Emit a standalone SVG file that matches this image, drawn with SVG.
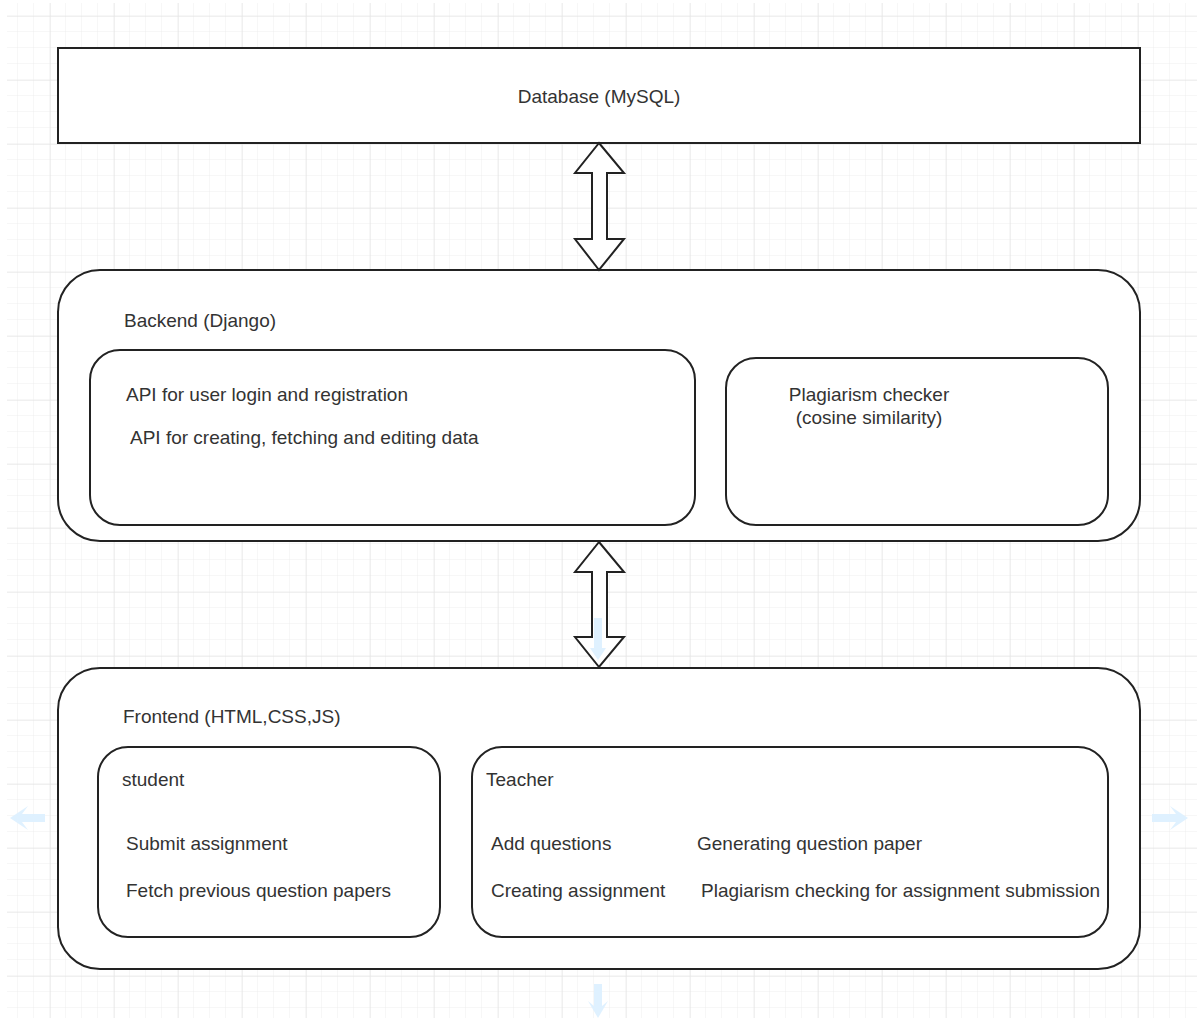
<svg xmlns="http://www.w3.org/2000/svg" width="1203" height="1022" viewBox="0 0 1203 1022">
<defs>
<pattern id="minor" x="2" y="0" width="16" height="16" patternUnits="userSpaceOnUse">
<path d="M16 0V16M0 16H16" fill="none" stroke="#eeeeee" stroke-width="1"/>
</pattern>
<pattern id="major" x="50" y="16" width="64" height="64" patternUnits="userSpaceOnUse">
<path d="M0 0V64M0 0H64" fill="none" stroke="#e2e2e2" stroke-width="1"/>
</pattern>
</defs>
<style>
.box{fill:#fff;stroke:#222;stroke-width:2}
.t{font-family:"Liberation Sans",Arial,sans-serif;font-size:19px;fill:#333}
.hint{fill:#dcefff;opacity:0.9}
</style>
<rect width="1203" height="1022" fill="#fff"/>
<rect x="7" y="3" width="1190" height="1015" fill="url(#minor)"/>
<rect x="7" y="3" width="1190" height="1015" fill="url(#major)"/>

<g id="database">
<rect class="box" x="58" y="48" width="1082" height="95"/>
<text class="t" x="599" y="103" text-anchor="middle">Database (MySQL)</text>
</g>

<g id="backend">
<rect class="box" x="58" y="270" width="1082" height="271" rx="42"/>
<text class="t" x="124" y="327">Backend (Django)</text>
</g>
<g id="api">
<rect class="box" x="90" y="350" width="605" height="175" rx="30"/>
<text class="t" x="126" y="401">API for user login and registration</text>
<text class="t" x="130" y="444">API for creating, fetching and editing data</text>
</g>
<g id="plagiarism">
<rect class="box" x="726" y="358" width="382" height="167" rx="30"/>
<text class="t" x="869" y="401" text-anchor="middle">Plagiarism checker</text>
<text class="t" x="869" y="424" text-anchor="middle">(cosine similarity)</text>
</g>

<g id="frontend">
<rect class="box" x="58" y="668" width="1082" height="301" rx="42"/>
<text class="t" x="123" y="723">Frontend (HTML,CSS,JS)</text>
</g>
<g id="student">
<rect class="box" x="98" y="747" width="342" height="190" rx="30"/>
<text class="t" x="122" y="786">student</text>
<text class="t" x="126" y="850">Submit assignment</text>
<text class="t" x="126" y="897">Fetch previous question papers</text>
</g>
<g id="teacher">
<rect class="box" x="472" y="747" width="636" height="190" rx="30"/>
<text class="t" x="486" y="786">Teacher</text>
<text class="t" x="491" y="850">Add questions</text>
<text class="t" x="491" y="897">Creating assignment</text>
<text class="t" x="697" y="850">Generating question paper</text>
<text class="t" x="701" y="897">Plagiarism checking for assignment submission</text>
</g>

<g id="connectors">
<path class="box" d="M599 143L624 173H607V239H624L599 270L575 239H592V173H575Z"/>
<path class="box" d="M599 542L624 572H607V637H624L599 667L575 637H592V572H575Z"/>
<path class="hint" opacity="0.7" d="M594 618H602V648H606L598 660L590 648H594Z"/>
</g>

<g id="hints">
<path class="hint" d="M45 814V822H22L28 830L10 818L28 806L22 814Z"/>
<path class="hint" d="M1152 814H1176L1170 806L1188 818L1170 830L1176 822H1152Z"/>
<path class="hint" d="M594 984H602V1006L608 1001L598 1018L588 1001L594 1006Z"/>
</g>
</svg>
